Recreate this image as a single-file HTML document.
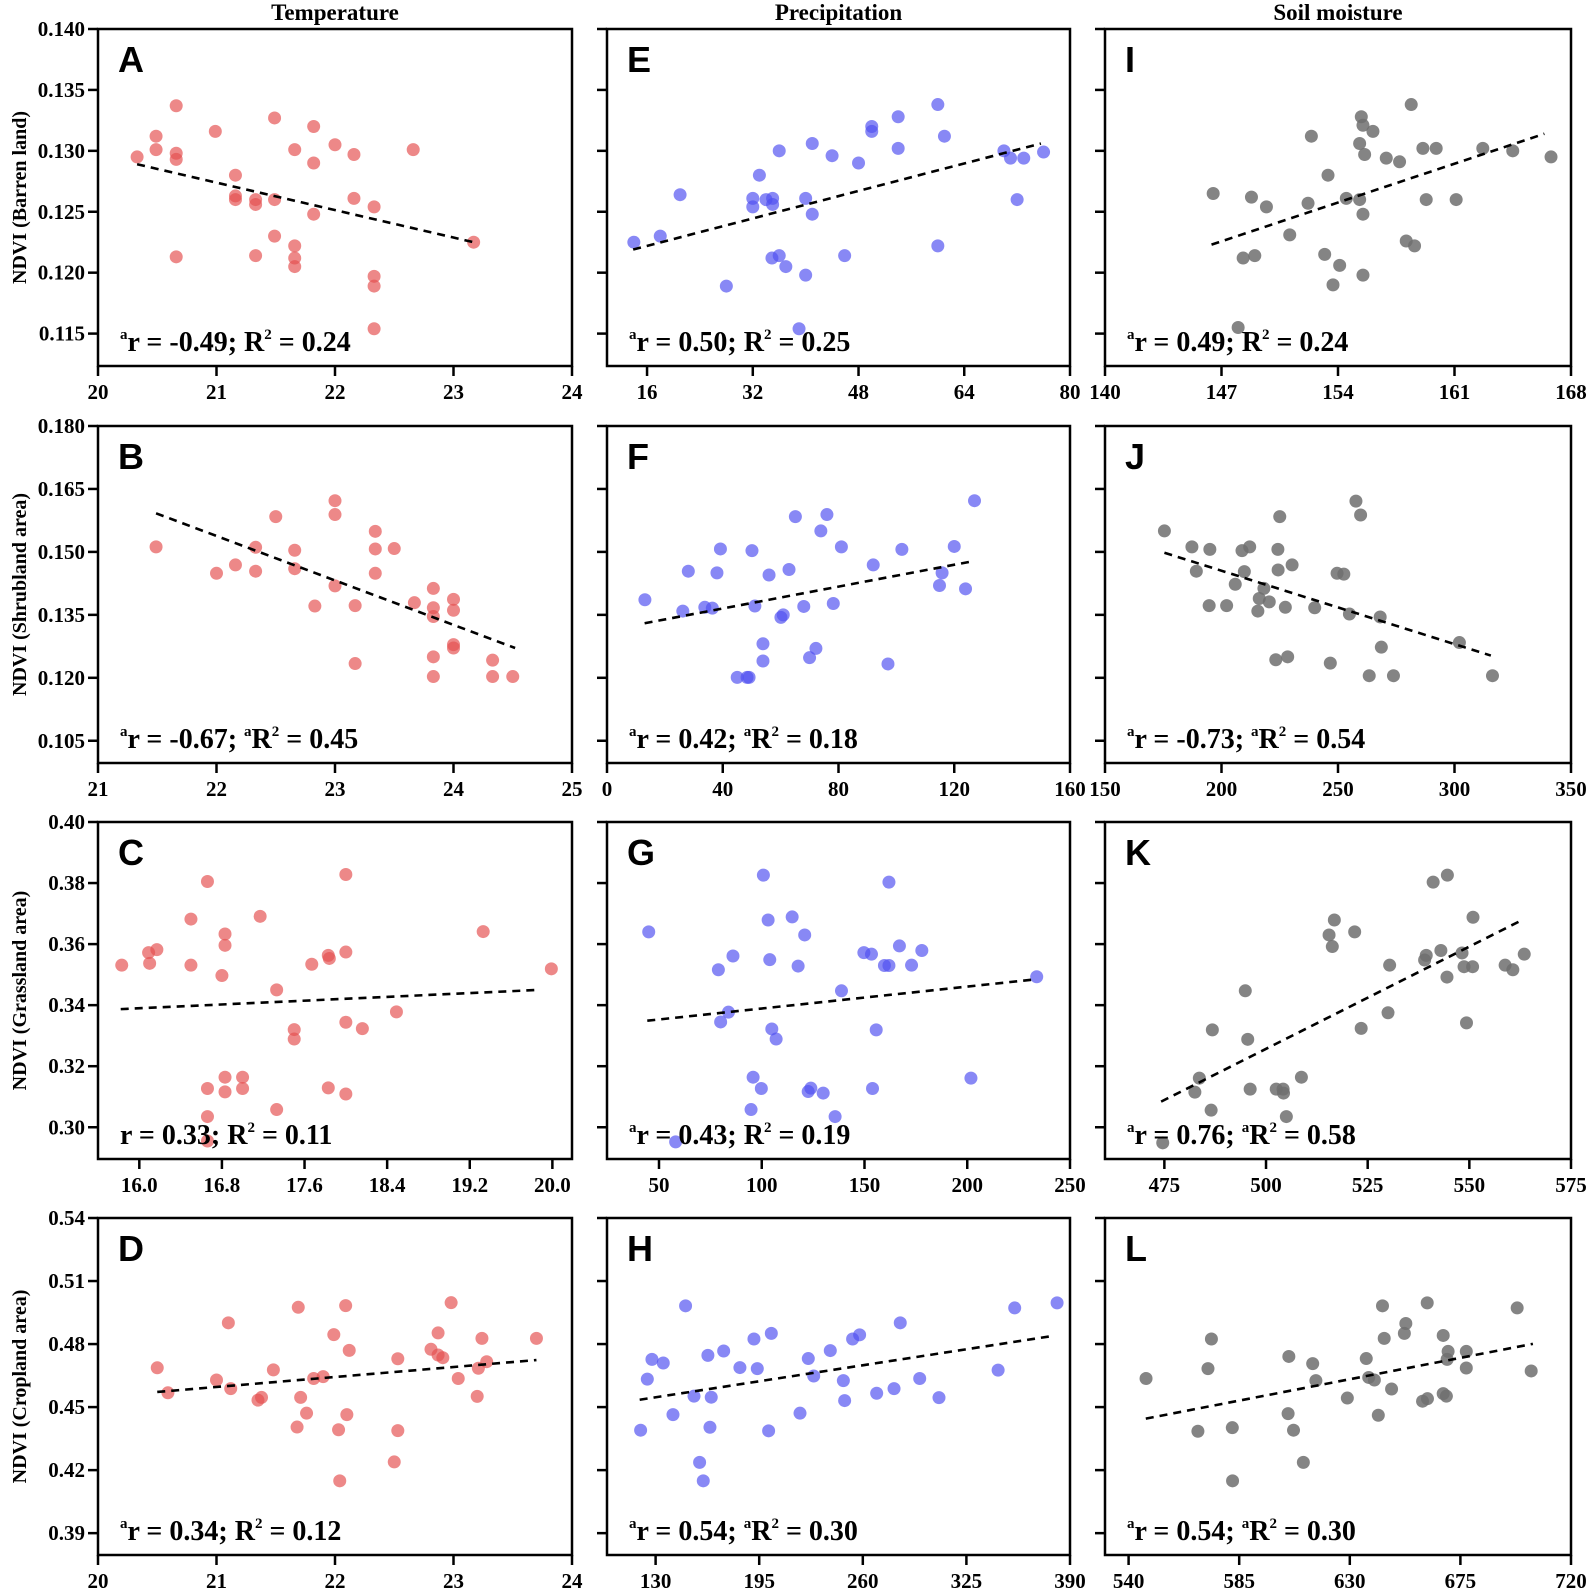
<!DOCTYPE html>
<html><head><meta charset="utf-8"><style>
html,body{margin:0;padding:0;background:#fff;}
svg{display:block;}
text{font-family:"Liberation Serif",serif;font-weight:bold;fill:#000;}
.let{font-family:"Liberation Sans",sans-serif;font-weight:bold;}
</style></head><body>
<svg id="fig" width="1594" height="1594" viewBox="0 0 1594 1594" xmlns="http://www.w3.org/2000/svg"></svg>
<script>
// ---- data ----
const xA=[20.33,20.49,20.49,20.66,20.66,20.66,20.66,20.99,21.16,21.16,21.16,21.33,21.33,21.33,21.49,21.49,21.49,21.66,21.66,21.66,21.66,21.82,21.82,21.82,22.0,22.16,22.16,22.33,22.33,22.33,22.33,22.66,23.17];
const yA=[0.1295,0.1312,0.1301,0.1337,0.1298,0.1293,0.1213,0.1316,0.1280,0.1263,0.1260,0.1260,0.1256,0.1214,0.1327,0.1260,0.1230,0.1301,0.1222,0.1212,0.1205,0.1320,0.1290,0.1248,0.1305,0.1297,0.1261,0.1254,0.1197,0.1189,0.1154,0.1301,0.1225];
const tA=[20.33,0.1289,23.17,0.1225];
const xB=[21.49,22.0,22.16,22.33,22.33,22.5,22.66,22.66,22.83,23.0,23.0,23.0,23.17,23.17,23.34,23.34,23.34,23.5,23.67,23.83,23.83,23.83,23.83,23.83,24.0,24.0,24.0,24.0,24.33,24.33,24.5];
const yB=[0.1512,0.1449,0.1469,0.1511,0.1454,0.1584,0.1504,0.1460,0.1371,0.1622,0.1589,0.1419,0.1372,0.1234,0.1549,0.1507,0.1449,0.1508,0.1379,0.1413,0.1367,0.1346,0.1250,0.1203,0.1387,0.1361,0.1279,0.1271,0.1242,0.1203,0.1203];
const tB=[21.49,0.1592,24.52,0.1271];
const xC=[15.83,16.09,16.10,16.17,16.50,16.50,16.66,16.66,16.66,16.66,16.80,16.83,16.83,16.83,16.83,17.0,17.0,17.17,17.33,17.33,17.5,17.5,17.67,17.83,17.83,17.84,18.0,18.0,18.0,18.0,18.16,18.49,19.33,19.99];
const yC=[0.3531,0.3572,0.3537,0.3582,0.3682,0.3531,0.3805,0.3127,0.3035,0.2955,0.3497,0.3633,0.3596,0.3164,0.3116,0.3164,0.3127,0.3691,0.3450,0.3058,0.3320,0.3289,0.3534,0.3563,0.3129,0.3553,0.3828,0.3574,0.3344,0.3109,0.3323,0.3378,0.3641,0.3519];
const tC=[15.82,0.3387,19.87,0.3450];
const xD=[20.5,20.59,21.0,21.1,21.12,21.35,21.38,21.48,21.68,21.69,21.71,21.76,21.82,21.9,21.99,22.03,22.04,22.09,22.1,22.12,22.5,22.53,22.53,22.81,22.87,22.87,22.91,22.98,23.04,23.2,23.21,23.24,23.28,23.7];
const yD=[0.4687,0.4568,0.4629,0.4901,0.4588,0.4533,0.4546,0.4677,0.4405,0.4975,0.4546,0.4471,0.4636,0.4645,0.4845,0.4392,0.4149,0.4983,0.4464,0.4770,0.4239,0.4730,0.4388,0.4775,0.4853,0.4748,0.4735,0.4997,0.4636,0.4551,0.4685,0.4827,0.4716,0.4827];
const tD=[20.5,0.4572,23.7,0.4724];
const xE=[14.0,18.0,21.0,28.0,32.0,32.0,33.0,34.0,35.0,35.0,34.9,36.0,36.0,37.0,39.0,40.0,40.0,41.0,41.0,44.0,45.9,48.0,50.0,50.0,54.0,54.0,60.0,60.0,61.0,70.0,71.0,72.0,73.0,76.0];
const yE=[0.1225,0.1230,0.1264,0.1189,0.1261,0.1254,0.1280,0.1260,0.1261,0.1256,0.1212,0.1214,0.1300,0.1205,0.1154,0.1261,0.1198,0.1306,0.1248,0.1296,0.1214,0.1290,0.1320,0.1316,0.1328,0.1302,0.1338,0.1222,0.1312,0.1300,0.1294,0.1260,0.1294,0.1299];
const tE=[13.9,0.1219,75.6,0.1306];
const xF=[13.1,26.2,28.1,33.8,36.4,38.0,39.2,45.0,48.4,49.1,50.1,51.1,53.9,53.9,56.0,60.1,60.9,62.9,65.1,68.0,70.0,72.2,73.9,76.0,78.2,81.0,92.0,97.1,101.9,114.9,115.8,120.0,123.9,127.0];
const yF=[0.1386,0.1359,0.1454,0.1368,0.1366,0.1450,0.1507,0.1201,0.1201,0.1201,0.1503,0.1371,0.1281,0.1240,0.1445,0.1344,0.1350,0.1458,0.1584,0.1370,0.1248,0.1270,0.1550,0.1589,0.1377,0.1512,0.1469,0.1233,0.1506,0.1420,0.1450,0.1513,0.1412,0.1622];
const tF=[13.0,0.1330,126.6,0.1478];
const xG=[45.0,58.1,78.9,80.0,83.8,86.0,94.8,95.8,99.8,100.8,103.1,103.9,104.9,107.0,114.8,117.7,120.9,122.6,123.9,129.9,135.7,138.8,149.7,153.4,153.9,155.7,159.7,161.9,161.9,167.0,172.9,177.9,201.8,233.8];
const yG=[0.3640,0.2952,0.3516,0.3345,0.3377,0.3561,0.3058,0.3164,0.3127,0.3826,0.3679,0.3549,0.3322,0.3289,0.3689,0.3528,0.3630,0.3117,0.3128,0.3112,0.3035,0.3447,0.3572,0.3567,0.3127,0.3319,0.3530,0.3530,0.3803,0.3594,0.3531,0.3579,0.3161,0.3493];
const tG=[44.3,0.3349,233.8,0.3485];
const xH=[120.6,124.8,127.7,134.8,140.9,148.8,154.1,157.6,159.9,162.8,164.1,164.9,172.7,182.9,191.7,193.8,200.9,202.6,220.6,225.8,229.2,239.6,247.8,248.6,253.6,258.0,268.7,279.6,283.5,295.7,307.8,344.9,355.3,381.9];
const yH=[0.4390,0.4633,0.4727,0.4710,0.4464,0.4982,0.4552,0.4237,0.4149,0.4746,0.4404,0.4547,0.4767,0.4688,0.4824,0.4683,0.4387,0.4851,0.4471,0.4731,0.4648,0.4769,0.4626,0.4531,0.4824,0.4844,0.4566,0.4588,0.4901,0.4636,0.4545,0.4676,0.4972,0.4996];
const tH=[120,0.4535,379.4,0.4839];
const xI=[146.5,148.0,148.3,148.8,149.0,149.7,151.1,152.2,152.4,153.2,153.4,153.7,154.1,154.5,155.3,155.3,155.4,155.5,155.5,155.5,155.6,156.1,156.9,157.7,158.1,158.4,158.6,159.1,159.3,159.9,161.1,162.7,164.5,166.8];
const yI=[0.1265,0.1155,0.1212,0.1262,0.1214,0.1254,0.1231,0.1257,0.1312,0.1215,0.1280,0.1190,0.1206,0.1261,0.1260,0.1306,0.1328,0.1248,0.1198,0.1321,0.1297,0.1316,0.1294,0.1291,0.1226,0.1338,0.1222,0.1302,0.1260,0.1302,0.1260,0.1302,0.1300,0.1295];
const tI=[146.4,0.1223,166.4,0.1314];
const xJ=[175.5,187.3,189.2,194.7,195.0,202.2,205.9,208.8,209.8,212.1,215.6,216.2,218.2,220.5,223.3,224.2,224.3,225.0,227.4,228.4,230.3,240.0,246.7,249.6,252.5,254.9,257.7,259.7,263.4,268.1,268.6,273.8,302.1,316.3];
const yJ=[0.1550,0.1512,0.1454,0.1372,0.1506,0.1372,0.1423,0.1503,0.1453,0.1512,0.1359,0.1389,0.1413,0.1381,0.1243,0.1506,0.1457,0.1584,0.1368,0.1250,0.1469,0.1367,0.1235,0.1449,0.1447,0.1352,0.1621,0.1588,0.1205,0.1345,0.1273,0.1205,0.1284,0.1205];
const tJ=[175.5,0.1498,315.6,0.1253];
const xK=[474.6,482.5,483.6,486.5,486.8,494.9,495.5,496.1,502.5,504.2,504.3,505.0,508.7,515.5,516.3,516.8,521.8,523.4,530.0,530.4,539.0,539.4,541.1,543.0,544.5,544.6,548.2,548.7,549.3,550.8,550.9,558.8,560.7,563.5];
const yK=[0.2949,0.3115,0.3161,0.3056,0.3319,0.3447,0.3288,0.3125,0.3125,0.3125,0.3112,0.3035,0.3164,0.3630,0.3592,0.3679,0.3640,0.3324,0.3375,0.3531,0.3548,0.3563,0.3803,0.3579,0.3492,0.3826,0.3571,0.3526,0.3342,0.3526,0.3688,0.3531,0.3516,0.3567];
const tK=[474.2,0.3084,563.0,0.3679];
const xL=[547.1,568.2,572.3,573.7,582.2,582.3,604.9,605.2,607.1,611.1,614.9,616.2,629.0,636.7,637.7,640.0,641.6,643.3,644.0,647.0,652.2,652.8,659.6,661.5,661.6,668.0,668.0,669.3,669.6,670.0,677.4,677.4,698.1,703.8];
const yL=[0.4636,0.4385,0.4683,0.4824,0.4402,0.4149,0.4469,0.4741,0.4390,0.4237,0.4707,0.4626,0.4543,0.4731,0.4641,0.4629,0.4461,0.4982,0.4827,0.4586,0.4851,0.4898,0.4528,0.4996,0.4540,0.4841,0.4564,0.4552,0.4727,0.4765,0.4765,0.4686,0.4972,0.4672];
const tL=[547.0,0.4445,704.5,0.4801];
// axis ranges and ticks
const xRanges={A:[20,24],B:[21,25],C:[15.6,20.19],D:[20,24],E:[9.94,80],F:[0,160],G:[24.7,250],H:[99.5,390],I:[140,168],J:[150,350],K:[460.4,575],L:[530.4,720]};
const xTicks={A:["20","21","22","23","24"],B:["21","22","23","24","25"],C:["16.0","16.8","17.6","18.4","19.2","20.0"],D:["20","21","22","23","24"],E:["16","32","48","64","80"],F:["0","40","80","120","160"],G:["50","100","150","200","250"],H:["130","195","260","325","390"],I:["140","147","154","161","168"],J:["150","200","250","300","350"],K:["475","500","525","550","575"],L:["540","585","630","675","720"]};
const yRanges=[[0.11234,0.140],[0.0997,0.180],[0.2896,0.40],[0.3796,0.54]];
const yTicks=[["0.115","0.120","0.125","0.130","0.135","0.140"],["0.105","0.120","0.135","0.150","0.165","0.180"],["0.30","0.32","0.34","0.36","0.38","0.40"],["0.39","0.42","0.45","0.48","0.51","0.54"]];
const rowTitles=["NDVI (Barren land)","NDVI (Shrubland area)","NDVI (Grassland area)","NDVI (Cropland area)"];
const colTitles=["Temperature","Precipitation","Soil moisture"];
const stats={A:["a","-0.49","","0.24"],B:["a","-0.67","a","0.45"],C:["","0.33","","0.11"],D:["a","0.34","","0.12"],E:["a","0.50","","0.25"],F:["a","0.42","a","0.18"],G:["a","0.43","","0.19"],H:["a","0.54","a","0.30"],I:["a","0.49","","0.24"],J:["a","-0.73","a","0.54"],K:["a","0.76","a","0.58"],L:["a","0.54","a","0.30"]};
const series={A:[xA,yA,tA],B:[xB,yB,tB],C:[xC,yC,tC],D:[xD,yD,tD],E:[xE,yE,tE],F:[xF,yF,tF],G:[xG,yG,tG],H:[xH,yH,tH],I:[xI,yI,tI],J:[xJ,yJ,tJ],K:[xK,yK,tK],L:[xL,yL,tL]};
const colColors=["rgba(228,80,80,0.68)","rgba(80,80,240,0.68)","rgba(110,110,110,0.85)"];

// ---- layout ----
const svg=document.getElementById('fig');
const NS='http://www.w3.org/2000/svg';
const colX=[[98,572],[607,1070],[1105,1571]];
const rowY=[29,426,822,1218];
const H=337;
function mk(tag,attrs,parent){const e=document.createElementNS(NS,tag);for(const k in attrs)e.setAttribute(k,attrs[k]);(parent||svg).appendChild(e);return e;}
const letters=[["A","B","C","D"],["E","F","G","H"],["I","J","K","L"]];

colTitles.forEach((t,c)=>{
  const e=mk('text',{x:(colX[c][0]+colX[c][1])/2,y:20,'text-anchor':'middle','font-size':23});
  e.textContent=t;
  
  
});
rowTitles.forEach((t,r)=>{
  const cy=rowY[r]+H/2;
  const e=mk('text',{x:0,y:0,transform:`translate(26,${cy}) rotate(-90)`,'text-anchor':'middle','font-size':20});
  e.textContent=t;
  
  
});

for(let c=0;c<3;c++){for(let r=0;r<4;r++){
  const L=letters[c][r];
  const [x0,x1]=colX[c];const y0=rowY[r],y1=y0+H;
  const [xmin,xmax]=xRanges[L];const [ymin,ymax]=yRanges[r];
  const sx=v=>x0+(v-xmin)/(xmax-xmin)*(x1-x0);
  const sy=v=>y1-(v-ymin)/(ymax-ymin)*H;
  const g=mk('g',{});
  
  
  yTicks[r].forEach(t=>{
    const yy=sy(parseFloat(t));
    const tk=mk('line',{x1:x0-10,x2:x0,y1:yy,y2:yy,stroke:'#000','stroke-width':2.5},g);
    
    
    if(c===0){const lb=mk('text',{x:x0-13,y:yy+7,'text-anchor':'end','font-size':21},g);lb.textContent=t;
      
      }
  });
  xTicks[L].forEach(t=>{
    const xx=sx(parseFloat(t));
    const tk=mk('line',{x1:xx,x2:xx,y1:y1,y2:y1+10,stroke:'#000','stroke-width':2.5},g);
    
    
    const lb=mk('text',{x:xx,y:y1+33,'text-anchor':'middle','font-size':21},g);lb.textContent=t;
    
    
  });
  const [xs,ys,tr]=series[L];
  xs.forEach((v,i)=>{
    const p=mk('circle',{cx:sx(v),cy:sy(ys[i]),r:6.5,fill:colColors[c]},g);
    
    
  });
  const ln=mk('line',{x1:sx(tr[0]),y1:sy(tr[1]),x2:sx(tr[2]),y2:sy(tr[3]),stroke:'#000','stroke-width':2.6,'stroke-dasharray':'8,6'},g);
  
  
  const fr=mk('rect',{x:x0,y:y0,width:x1-x0,height:H,fill:'none',stroke:'#000','stroke-width':2.5},g);
  
  
  const lt=mk('text',{x:x0+20,y:y0+43,'font-size':36,class:'let'},g);lt.textContent=L;
  
  
  const s=stats[L];
  const st=mk('text',{x:x0+22,y:y1-15,'font-size':28},g);
  
  
  st.innerHTML=(s[0]?'<tspan font-size="15" dy="-12">a</tspan><tspan dy="12">r = '+s[1]+'; </tspan>':'r = '+s[1]+'; ')+
    (s[2]?'<tspan font-size="15" dy="-12">a</tspan><tspan dy="12">R</tspan>':'<tspan>R</tspan>')+
    '<tspan font-size="15" dy="-12">2</tspan><tspan dy="12"> = '+s[3]+'</tspan>';
}}
</script>
</body></html>
